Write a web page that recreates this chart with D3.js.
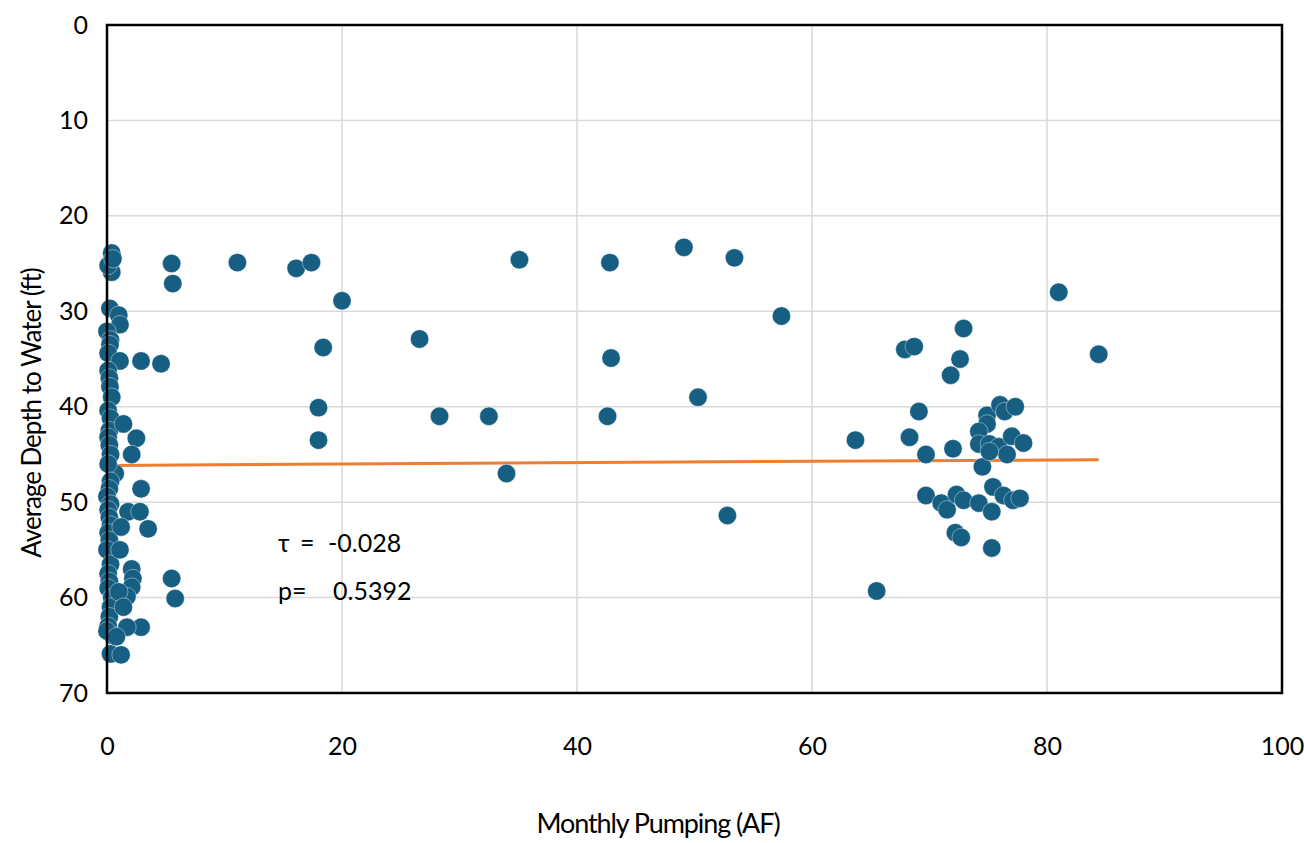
<!DOCTYPE html>
<html>
<head>
<meta charset="utf-8">
<script src="https://cdn.jsdelivr.net/npm/d3@7"></script>
<style>
  body { margin: 0; background: #fff; }
  svg { display: block; font-family: Lato, "Open Sans", sans-serif; }
</style>
</head>
<body>
<svg id="chart" width="1304" height="843"></svg>
<script>
// Monthly pumping (AF) for each observation
const pumping = [
  // near-zero pumping column
  0.4, 0.25, 0.4, 0.1, 0.5, 0.25, 1.0, 1.1, 0.0, 0.3, 0.25, 0.1, 1.1, 0.1, 0.2, 0.25, 0.4, 0.1, 0.3,
  0.2, 0.1, 0.2, 0.3, 0.7, 0.1, 0.3, 0.2, 0.0, 0.3, 0.1, 0.2, 0.3, 0.1, 0.2, 0.0, 0.3, 0.1, 0.2, 0.1,
  0.4, 0.3, 0.2, 0.1, 0.5, 0.3, 0.0,
  // low pumping spread
  2.9, 4.6, 1.4, 2.5, 2.1, 2.9, 1.8, 2.8, 1.2, 3.5, 1.1, 2.1, 2.2, 2.1, 1.7, 1.0, 1.4, 2.9, 1.7, 0.8, 1.2,
  5.5, 5.6, 5.5, 5.8,
  // mid-range
  11.1, 16.1, 17.4, 20.0, 18.4, 18.0, 18.0, 26.6, 28.3, 32.5, 34.0, 35.1, 42.8, 42.9, 42.6,
  49.1, 50.3, 53.4, 52.8, 57.4, 81.0, 84.4, 63.7, 65.5,
  // high pumping cluster
  72.9, 67.9, 68.7, 72.6, 71.8, 69.1, 68.3, 69.7, 72.0, 74.9, 74.9, 74.2, 76.0, 76.4, 77.3,
  74.2, 75.1, 75.9, 77.0, 78.0, 76.6, 74.5, 75.1, 69.7, 71.0, 71.5, 72.3, 72.9, 74.2, 75.3,
  75.4, 76.3, 77.1, 77.7, 72.2, 72.7, 75.3
];

// Average depth to water (ft) for each observation, same order as pumping
const depth = [
  23.9, 25.0, 25.9, 25.2, 24.5, 29.7, 30.4, 31.4, 32.1, 33.0, 33.5, 34.4, 35.2, 36.2, 37.0, 37.9, 39.0, 40.4, 41.2,
  42.5, 43.2, 44.0, 45.0, 47.0, 46.0, 47.8, 48.6, 49.4, 50.2, 50.8, 51.6, 52.4, 53.2, 54.0, 55.0, 56.5, 57.5, 58.3, 59.0,
  60.0, 61.0, 62.0, 63.0, 64.0, 65.9, 63.5,
  35.2, 35.5, 41.8, 43.3, 45.0, 48.6, 51.0, 51.0, 52.6, 52.8, 55.0, 57.0, 58.0, 58.9, 59.9, 59.4, 61.0, 63.1, 63.1, 64.1, 66.0,
  25.0, 27.1, 58.0, 60.1,
  24.9, 25.5, 24.9, 28.9, 33.8, 40.1, 43.5, 32.9, 41.0, 41.0, 47.0, 24.6, 24.9, 34.9, 41.0,
  23.3, 39.0, 24.4, 51.4, 30.5, 28.0, 34.5, 43.5, 59.3,
  31.8, 34.0, 33.7, 35.0, 36.7, 40.5, 43.2, 45.0, 44.4, 40.9, 41.8, 42.6, 39.8, 40.5, 40.0,
  43.9, 43.9, 44.2, 43.1, 43.8, 45.0, 46.3, 44.7, 49.3, 50.1, 50.8, 49.2, 49.8, 50.1, 51.0,
  48.4, 49.3, 49.8, 49.6, 53.2, 53.7, 54.8
];

const xTicks = [0, 20, 40, 60, 80, 100];
const yTicks = [0, 10, 20, 30, 40, 50, 60, 70];

// Linear trend endpoints (pumping, depth)
const trendX = [0, 84.4];
const trendY = [46.15, 45.55];

// Kendall statistics: symbol and value
const statNames = ["τ =", "p="];
const statValues = ["-0.028", "0.5392"];

const svg = d3.select("#chart");
const plot = { left: 107, right: 1282, top: 25, bottom: 693 };
const FONT = "Lato, 'Open Sans', sans-serif";

const x = d3.scaleLinear().domain([0, 100]).range([plot.left, plot.right]);
const y = d3.scaleLinear().domain([0, 70]).range([plot.top, plot.bottom]);

// gridlines
svg.append("g")
  .selectAll("line")
  .data(xTicks)
  .join("line")
  .attr("x1", d => x(d)).attr("x2", d => x(d))
  .attr("y1", plot.top).attr("y2", plot.bottom)
  .attr("stroke", "#d9d9d9").attr("stroke-width", 1.5);

svg.append("g")
  .selectAll("line")
  .data(yTicks)
  .join("line")
  .attr("x1", plot.left).attr("x2", plot.right)
  .attr("y1", d => y(d)).attr("y2", d => y(d))
  .attr("stroke", "#d9d9d9").attr("stroke-width", 1.5);

// axes (labels only)
const xAxis = d3.axisBottom(x).tickValues(xTicks).tickSize(0).tickPadding(44);
const gx = svg.append("g").attr("transform", `translate(0,${plot.bottom})`).call(xAxis);
gx.select(".domain").remove();
gx.selectAll("text").attr("font-size", 25).attr("fill", "#000").attr("font-family", FONT);

const yAxis = d3.axisLeft(y).tickValues(yTicks).tickSize(0).tickPadding(19);
const gy = svg.append("g").attr("transform", `translate(${plot.left},0)`).call(yAxis);
gy.select(".domain").remove();
gy.selectAll("text").attr("font-size", 25).attr("fill", "#000").attr("font-family", FONT);

// trend line
svg.append("line")
  .attr("x1", x(trendX[0])).attr("y1", y(trendY[0]))
  .attr("x2", x(trendX[1])).attr("y2", y(trendY[1]))
  .attr("stroke", "#ed7d31").attr("stroke-width", 3);

// points
const pts = pumping.map((p, i) => ({ p, d: depth[i] }));
svg.append("g")
  .selectAll("circle")
  .data(pts)
  .join("circle")
  .attr("cx", d => x(d.p))
  .attr("cy", d => y(d.d))
  .attr("r", 9.2)
  .attr("fill", "#175f82")
  .attr("stroke", "#ffffff")
  .attr("stroke-opacity", 0.5)
  .attr("stroke-width", 0.8);

// plot frame
svg.append("rect")
  .attr("x", plot.left).attr("y", plot.top)
  .attr("width", plot.right - plot.left).attr("height", plot.bottom - plot.top)
  .attr("fill", "none").attr("stroke", "#000").attr("stroke-width", 2.5);

// statistics annotation
const stats = svg.append("g").attr("font-size", 25).attr("fill", "#000");
stats.selectAll("text.name")
  .data(statNames)
  .join("text")
  .attr("class", "name")
  .attr("x", 278)
  .attr("y", (d, i) => 552 + i * 48)
  .attr("word-spacing", 4)
  .text(d => d);
stats.selectAll("text.value")
  .data(statValues)
  .join("text")
  .attr("class", "value")
  .attr("x", (d, i) => i === 0 ? 328 : 333)
  .attr("y", (d, i) => 552 + i * 48)
  .text(d => d);

// axis titles
svg.append("text")
  .attr("x", 658).attr("y", 833)
  .attr("text-anchor", "middle")
  .attr("font-size", 27)
  .attr("letter-spacing", -1.1)
  .text("Monthly Pumping (AF)");

svg.append("text")
  .attr("transform", "translate(41,413) rotate(-90)")
  .attr("text-anchor", "middle")
  .attr("font-size", 26)
  .attr("letter-spacing", -1.0)
  .text("Average Depth to Water (ft)");
</script>
</body>
</html>
